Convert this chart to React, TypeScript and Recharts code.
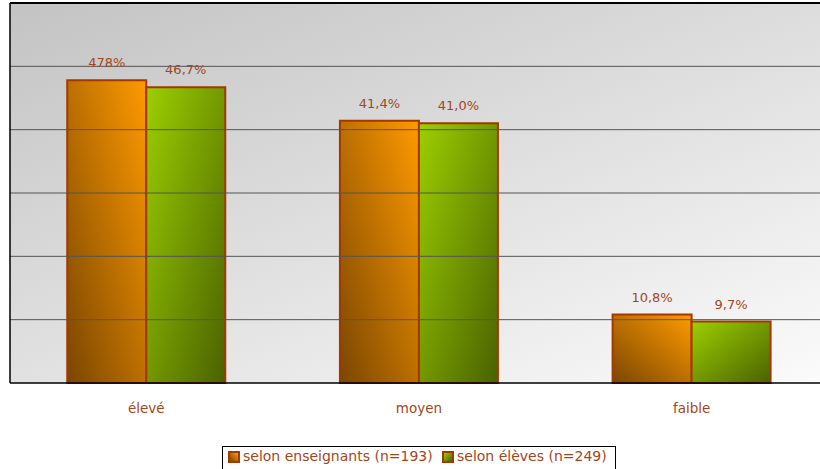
import React from "react";
import { BarChart, Bar, XAxis, YAxis, LabelList, ReferenceLine, ReferenceArea } from "recharts";

const categories = ["élevé", "moyen", "faible"];
const enseignants = [47.8, 41.4, 10.8];
const eleves = [46.7, 41.0, 9.7];
const enseignantsLabels = ["478%", "41,4%", "10,8%"];
const elevesLabels = ["46,7%", "41,0%", "9,7%"];
const yTicks = [0, 10, 20, 30, 40, 50, 60];
const seriesNames = ["selon enseignants (n=193)", "selon élèves (n=249)"];

const data = categories.map((c, i) => ({
  cat: c,
  ens: enseignants[i],
  elv: eleves[i],
  ensLabel: enseignantsLabels[i],
  elvLabel: elevesLabels[i],
}));

const BROWN = "#a3461c";
const FONT = "'DejaVu Sans', Verdana, sans-serif";

export default function App() {
  return (
    <div style={{ position: "fixed", left: 0, top: 0, width: 820, height: 469, overflow: "hidden", background: "#fff" }}>
      <BarChart
        width={828}
        height={469}
        data={data}
        margin={{ top: 3, right: 0, bottom: 0, left: 0 }}
        barCategoryGap="21%"
        barGap={0}
      >
        <defs>
          <linearGradient id="bgGrad" gradientUnits="userSpaceOnUse" x1="10" y1="3" x2="252" y2="612">
            <stop offset="0%" stopColor="#c3c3c3" />
            <stop offset="100%" stopColor="#fbfbfb" />
          </linearGradient>
          <linearGradient id="orangeGrad" x1="0" y1="1" x2="1" y2="0">
            <stop offset="0%" stopColor="#7a4600" />
            <stop offset="100%" stopColor="#ff9a00" />
          </linearGradient>
          <linearGradient id="greenGrad" x1="0" y1="0" x2="1" y2="1">
            <stop offset="0%" stopColor="#9ccf00" />
            <stop offset="100%" stopColor="#4a6200" />
          </linearGradient>
        </defs>
        <XAxis
          dataKey="cat"
          height={86}
          tickSize={0}
          tickMargin={20}
          axisLine={{ stroke: "#000", strokeWidth: 1.5 }}
          tick={{ fill: BROWN, fontSize: 13.5, fontFamily: FONT }}
        />
        <YAxis
          width={10}
          domain={[0, 60]}
          ticks={yTicks}
          tick={false}
          tickLine={false}
          axisLine={{ stroke: "#000", strokeWidth: 1.5 }}
        />
        <ReferenceArea y1={0} y2={60} fill="url(#bgGrad)" fillOpacity={1} stroke="none" />
        {yTicks.slice(1, 6).map((t) => (
          <ReferenceLine key={t} y={t} stroke="#555" strokeWidth={1} />
        ))}
        <ReferenceLine y={60} stroke="#000" strokeWidth={2} />
        <Bar dataKey="ens" fill="url(#orangeGrad)" stroke="#a33800" strokeWidth={2} isAnimationActive={false}>
          <LabelList dataKey="ensLabel" position="top" offset={13} fill={BROWN} fontSize={13} fontFamily={FONT} />
        </Bar>
        <Bar dataKey="elv" fill="url(#greenGrad)" stroke="#a33800" strokeWidth={2} isAnimationActive={false}>
          <LabelList dataKey="elvLabel" position="top" offset={13} fill={BROWN} fontSize={13} fontFamily={FONT} />
        </Bar>
      </BarChart>
      <div
        style={{
          position: "absolute",
          left: 222,
          top: 446,
          width: 394,
          height: 30,
          border: "1px solid #000",
          background: "#fff",
          boxSizing: "border-box",
          fontFamily: FONT,
          fontSize: 14,
          color: BROWN,
        }}
      >
        <div style={{ position: "absolute", left: 5, top: 4, width: 12, height: 12, boxSizing: "border-box", border: "2px solid #a33800", background: "linear-gradient(45deg, #7a4600, #ff9a00)" }} />
        <div style={{ position: "absolute", left: 20, top: 1, whiteSpace: "nowrap" }}>{seriesNames[0]}</div>
        <div style={{ position: "absolute", left: 219, top: 4, width: 12, height: 12, boxSizing: "border-box", border: "2px solid #a33800", background: "linear-gradient(135deg, #9ccf00, #4a6200)" }} />
        <div style={{ position: "absolute", left: 234, top: 1, whiteSpace: "nowrap" }}>{seriesNames[1]}</div>
      </div>
    </div>
  );
}
